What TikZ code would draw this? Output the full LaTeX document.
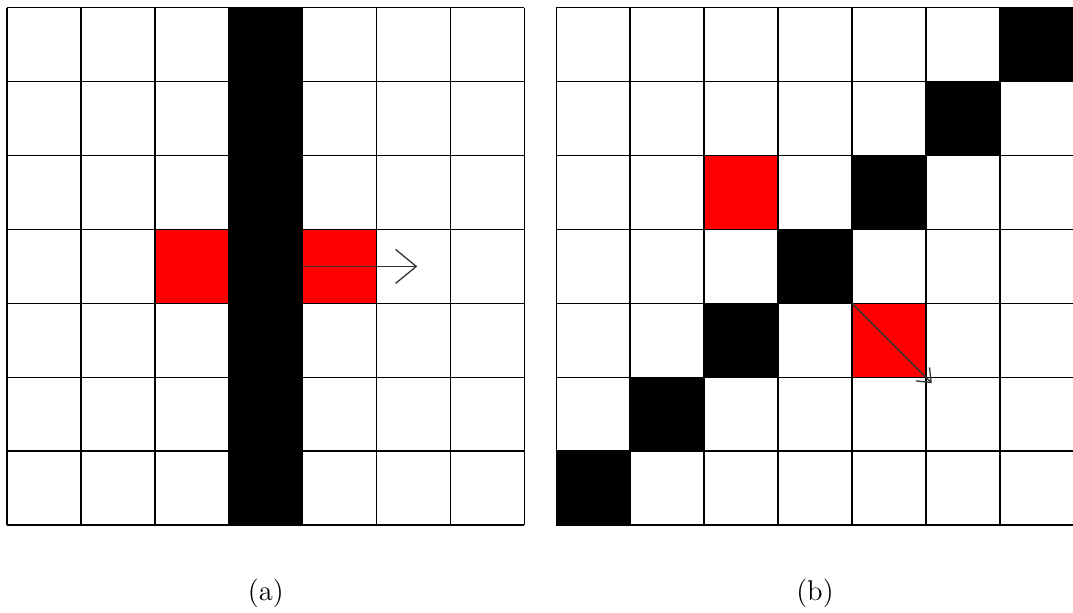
\documentclass[tikz,border=0pt]{standalone}
\usetikzlibrary{arrows.meta}
\tikzset{
  gridline/.style={line width=0.6pt},
  moveline/.style={line width=0.5pt, black!80, -{Straight Barb[length=2.8mm, width=4.6mm]}},
  diagline/.style={line width=0.5pt, black!80, -{Straight Barb[length=1.6mm, width=2.6mm]}},
  caption/.style={font=\fontsize{11}{13}\selectfont}
}
\begin{document}
\begin{tikzpicture}
\useasboundingbox (-0.095,-1.177) rectangle (14.42,7.104);

% (a) vertical bar
\fill (3,0) rectangle (4,7);
\fill[red] (2,3) rectangle (3,4);
\fill[red] (4,3) rectangle (5,4);
\draw[gridline] (0,0) grid (7,7);
\coordinate (a-start) at (4,3.5);
\coordinate (a-end) at (5.55,3.5);
\draw[moveline] (a-start) -- (a-end);
\node[caption] (lbl-a) at (3.5,-0.92) {(a)};

% (b) diagonal bar
\begin{scope}[xshift=7.43cm]
\foreach \i in {0,...,6}
  \fill (\i,\i) rectangle +(1,1);
\fill[red] (2,4) rectangle (3,5);
\fill[red] (4,2) rectangle (5,3);
\draw[gridline] (0,0) grid (7,7);
\coordinate (b-start) at (4,3);
\coordinate (b-end) at (5.08,1.92);
\draw[diagline] (b-start) -- (b-end);
\node[caption] (lbl-b) at (3.5,-0.92) {(b)};
\end{scope}
\end{tikzpicture}
\end{document}
